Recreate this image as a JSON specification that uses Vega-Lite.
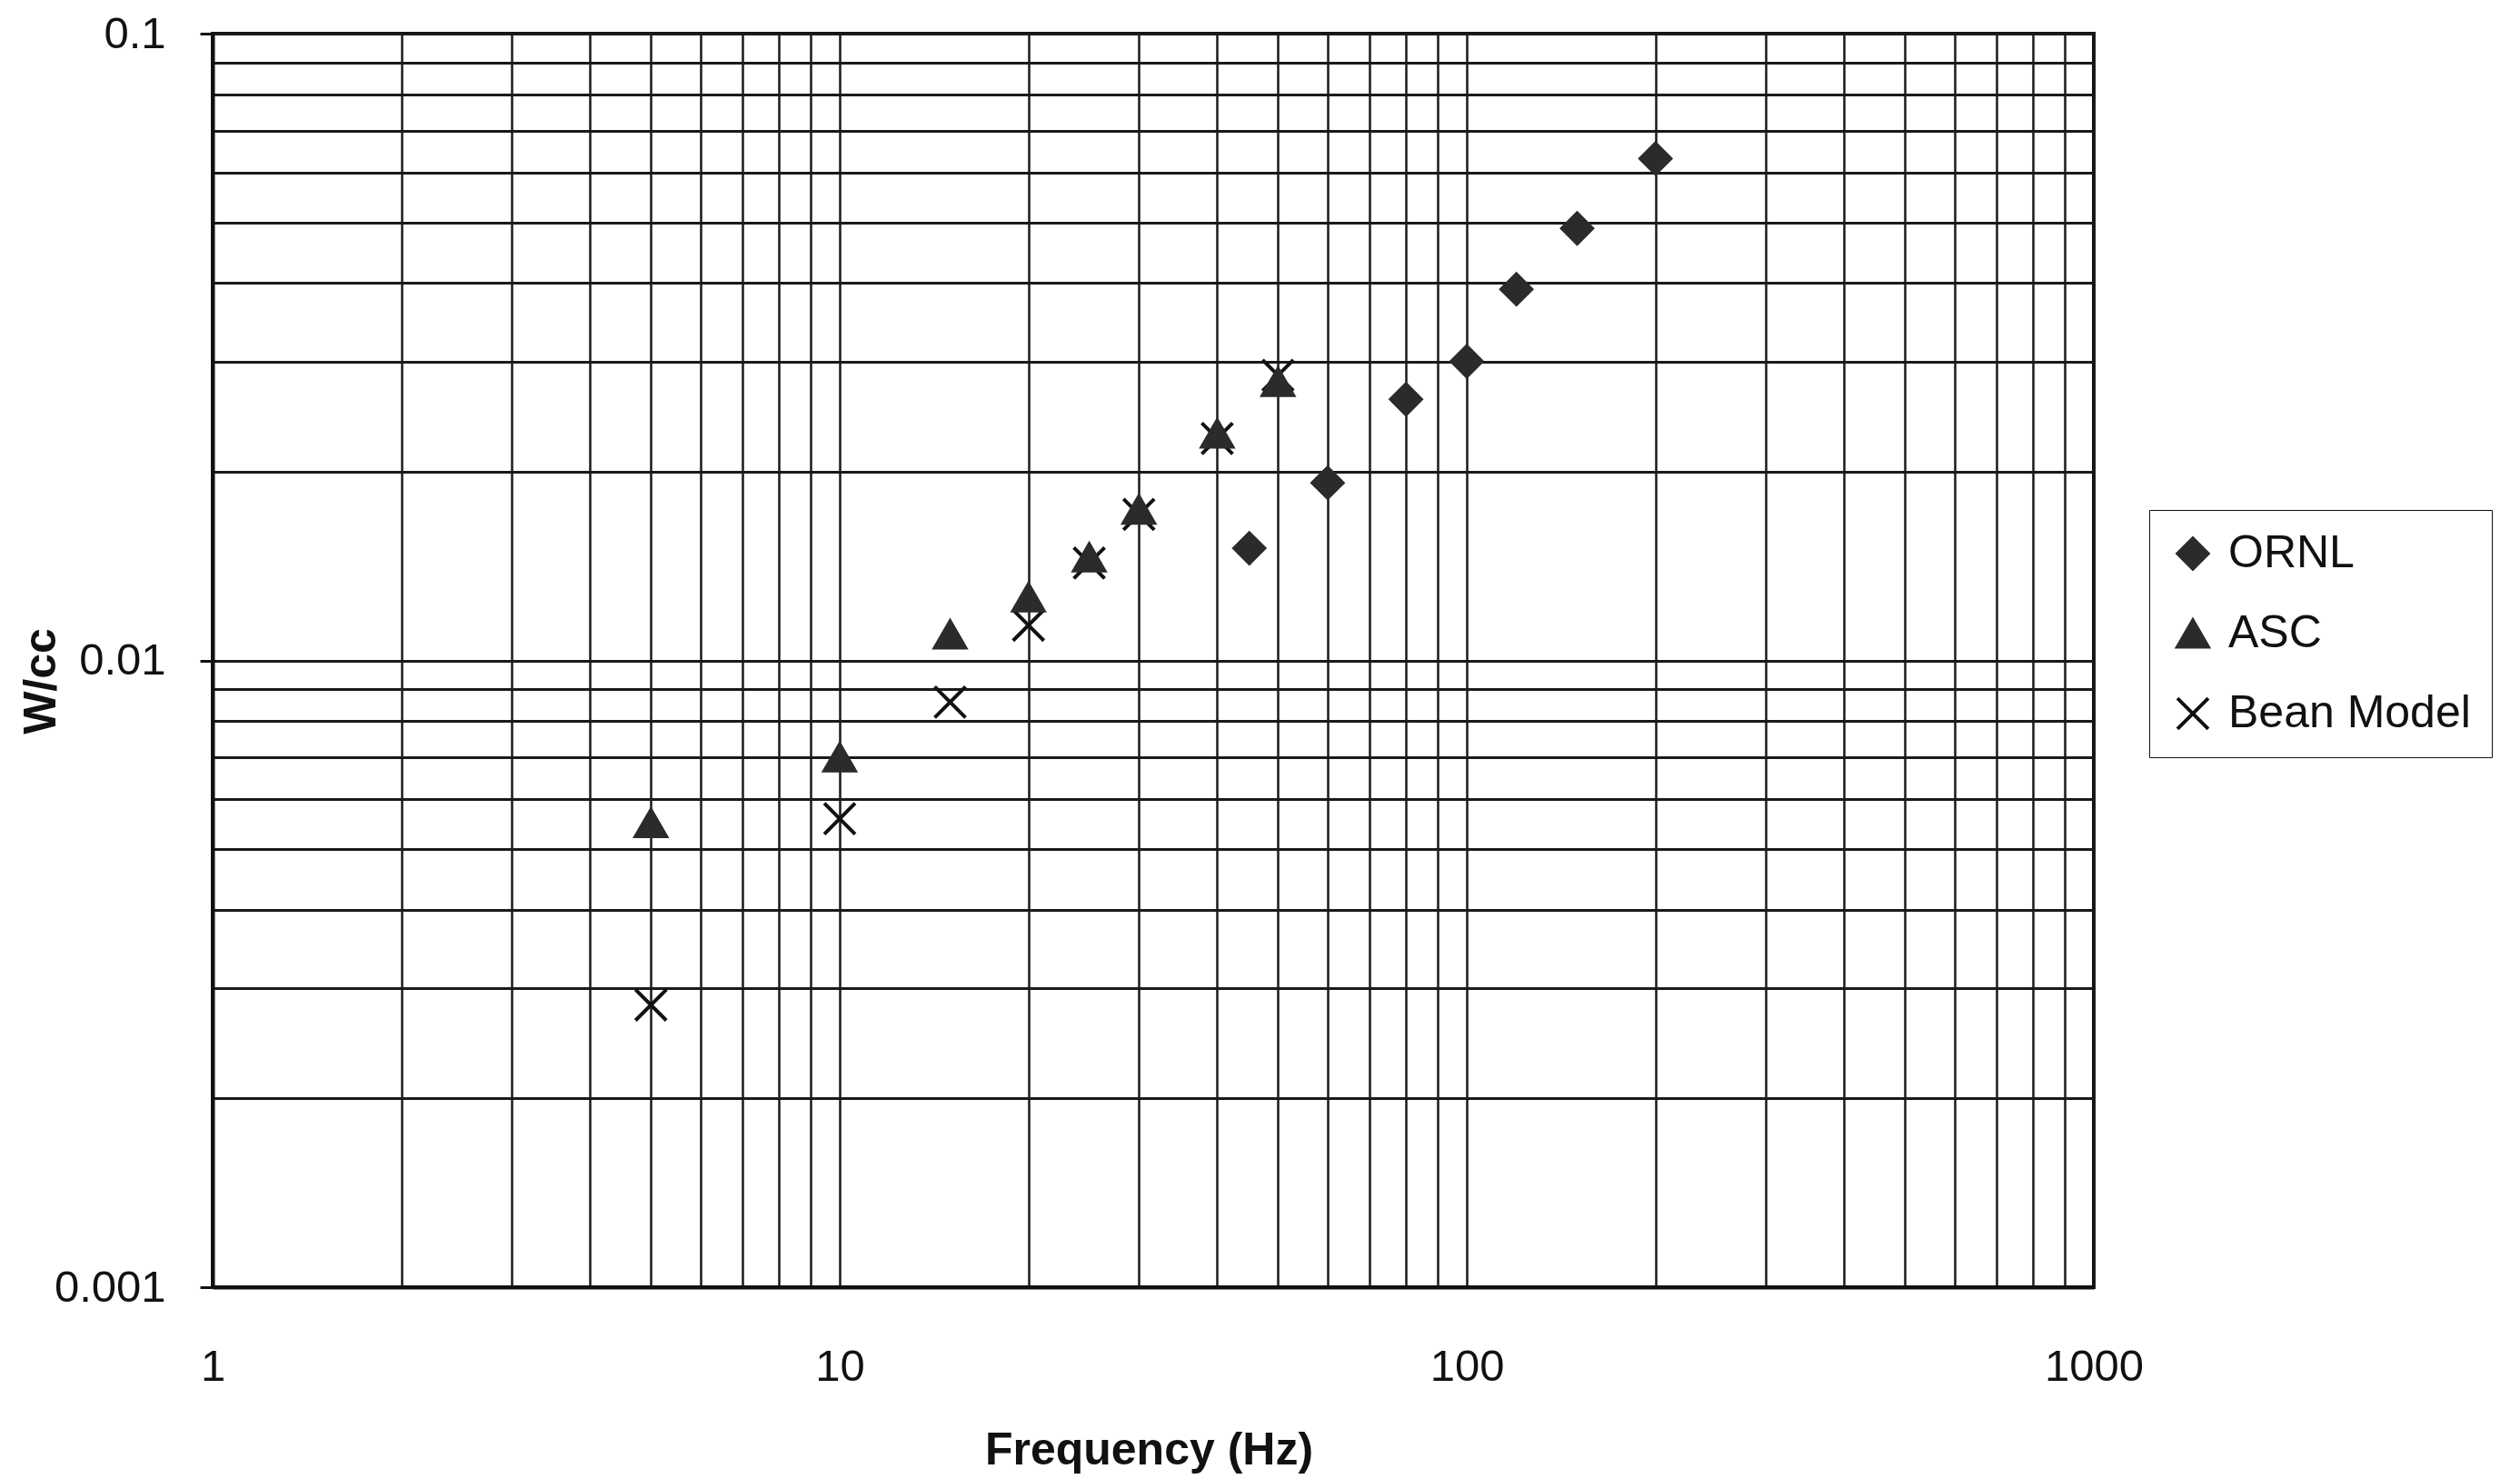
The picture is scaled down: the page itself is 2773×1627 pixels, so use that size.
{
  "$schema": "https://vega.github.io/schema/vega-lite/v6.json",
  "width": 2070,
  "height": 1379,
  "autosize": {"type": "none"},
  "padding": {"left": 234, "top": 37, "right": 469, "bottom": 211},
  "background": "white",
  "config": {
    "font": "Liberation Sans",
    "view": {"stroke": "#111111", "strokeWidth": 4}
  },
  "data": {
    "values": [
      {"series": "Bean Model", "freq": 5, "wcc": 0.00282},
      {"series": "Bean Model", "freq": 10, "wcc": 0.00559},
      {"series": "Bean Model", "freq": 15, "wcc": 0.00858},
      {"series": "Bean Model", "freq": 20, "wcc": 0.01138},
      {"series": "Bean Model", "freq": 25, "wcc": 0.0143},
      {"series": "Bean Model", "freq": 30, "wcc": 0.0171},
      {"series": "Bean Model", "freq": 40, "wcc": 0.0226},
      {"series": "Bean Model", "freq": 50, "wcc": 0.0285},
      {"series": "ASC", "freq": 5, "wcc": 0.0055},
      {"series": "ASC", "freq": 10, "wcc": 0.0070},
      {"series": "ASC", "freq": 15, "wcc": 0.0110},
      {"series": "ASC", "freq": 20, "wcc": 0.0126},
      {"series": "ASC", "freq": 25, "wcc": 0.0146},
      {"series": "ASC", "freq": 30, "wcc": 0.0174},
      {"series": "ASC", "freq": 40, "wcc": 0.0230},
      {"series": "ASC", "freq": 50, "wcc": 0.0278},
      {"series": "ORNL", "freq": 45, "wcc": 0.0151},
      {"series": "ORNL", "freq": 60, "wcc": 0.0192},
      {"series": "ORNL", "freq": 80, "wcc": 0.0261},
      {"series": "ORNL", "freq": 100, "wcc": 0.0300},
      {"series": "ORNL", "freq": 120, "wcc": 0.0391},
      {"series": "ORNL", "freq": 150, "wcc": 0.0489},
      {"series": "ORNL", "freq": 200, "wcc": 0.0632}
    ]
  },
  "mark": {"type": "point", "filled": false, "opacity": 1, "strokeWidth": 4},
  "encoding": {
    "x": {
      "field": "freq",
      "type": "quantitative",
      "scale": {"type": "log", "domain": [1, 1000], "nice": false},
      "axis": {
        "values": [1,2,3,4,5,6,7,8,9,10,20,30,40,50,60,70,80,90,100,200,300,400,500,600,700,800,900,1000],
        "grid": true,
        "gridColor": "#1a1a1a",
        "gridWidth": 2.5,
        "gridOpacity": 1,
        "ticks": false,
        "domain": true,
        "domainColor": "#111111",
        "domainWidth": 4,
        "labelExpr": "indexof([1,10,100,1000], datum.value) >= 0 ? '' + datum.value : ''",
        "labelFlush": false,
        "labelOverlap": false,
        "labelFontSize": 49,
        "labelColor": "#111111",
        "labelPadding": 63,
        "labelBaseline": "top",
        "title": "Frequency (Hz)",
        "titleFontSize": 50,
        "titleFontWeight": "bold",
        "titleColor": "#111111",
        "titleX": 1030,
        "titleY": 194,
        "titleAlign": "center",
        "titleBaseline": "alphabetic"
      }
    },
    "y": {
      "field": "wcc",
      "type": "quantitative",
      "scale": {"type": "log", "domain": [0.001, 0.1], "nice": false},
      "axis": {
        "values": [0.001,0.002,0.003,0.004,0.005,0.006,0.007,0.008,0.009,0.01,0.02,0.03,0.04,0.05,0.06,0.07,0.08,0.09,0.1],
        "grid": true,
        "gridColor": "#1a1a1a",
        "gridWidth": 3,
        "gridOpacity": 1,
        "ticks": true,
        "tickSize": 14,
        "tickWidth": 3,
        "tickColor": "#111111",
        "tickOpacity": {"condition": {"test": "indexof([0.001,0.01,0.1], datum.value) >= 0", "value": 1}, "value": 0},
        "domain": true,
        "domainColor": "#111111",
        "domainWidth": 4,
        "labelExpr": "indexof([0.001,0.01,0.1], datum.value) >= 0 ? '' + datum.value : ''",
        "labelFlush": false,
        "labelOverlap": false,
        "labelFontSize": 49,
        "labelColor": "#111111",
        "labelPadding": 38,
        "title": "W/cc",
        "titleFontSize": 50,
        "titleFontWeight": "bold",
        "titleColor": "#111111",
        "titleAngle": 270,
        "titleX": -174,
        "titleY": 712,
        "titleAlign": "center",
        "titleBaseline": "alphabetic"
      }
    },
    "shape": {
      "field": "series",
      "type": "nominal",
      "scale": {"domain": ["ORNL", "ASC", "Bean Model"], "range": ["diamond", "triangle-up", "M-1,-1L1,1M-1,1L1,-1"]},
      "legend": {
        "title": null,
        "orient": "none",
        "legendX": 2131,
        "legendY": 524,
        "strokeColor": "#111111",
        "fillColor": "white",
        "padding": 23,
        "rowPadding": 38,
        "labelOffset": 14,
        "labelFontSize": 50,
        "labelColor": "#111111",
        "labelLimit": 1000,
        "symbolStrokeWidth": 4,
        "symbolOpacity": 1
      }
    },
    "fill": {
      "field": "series",
      "type": "nominal",
      "scale": {"domain": ["ORNL", "ASC", "Bean Model"], "range": ["#2b2b2b", "#2b2b2b", "transparent"]}
    },
    "stroke": {
      "field": "series",
      "type": "nominal",
      "scale": {"domain": ["ORNL", "ASC", "Bean Model"], "range": ["#2b2b2b", "#2b2b2b", "#111111"]}
    },
    "size": {
      "field": "series",
      "type": "nominal",
      "scale": {"domain": ["ORNL", "ASC", "Bean Model"], "range": [1100, 1150, 1500]}
    }
  }
}
